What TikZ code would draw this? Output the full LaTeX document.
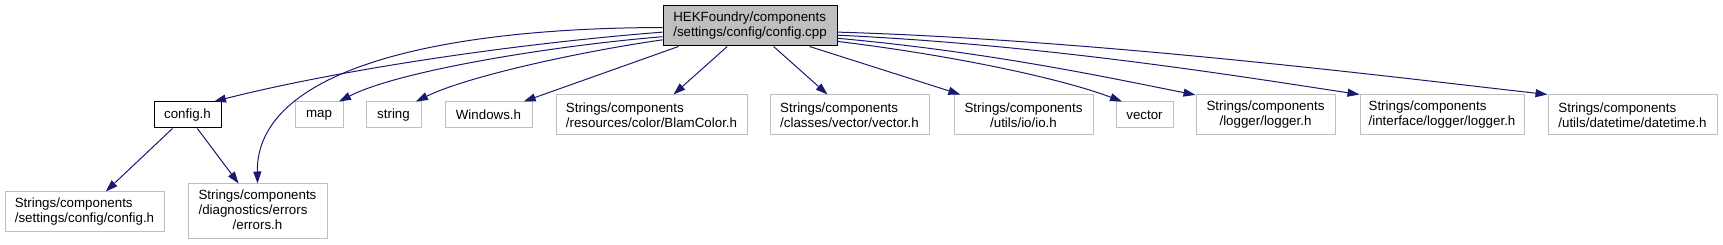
\documentclass[tikz,border=0pt]{standalone}
\usepackage{fontspec}
\setmainfont{Liberation Sans}
\usetikzlibrary{arrows.meta}
\definecolor{edgeblue}{HTML}{191970}
\definecolor{boxgrey}{HTML}{BFBFBF}
\tikzset{
  px/.style={x=0.75pt, y=-0.75pt},                 % one unit = one pixel, y downwards
  hbox/.style={draw=boxgrey, fill=white, line width=0.75pt, inner sep=0pt,
               align=left, font=\fontsize{10}{11.25}\selectfont},
  sbox/.style={hbox, minimum height=19.5pt},        % one-line header box
  dbox/.style={hbox, minimum height=30pt},          % two-line header box
  mainbox/.style={dbox, draw=black, fill=boxgrey},  % the source file itself
  incl/.style={edgeblue, line width=0.75pt, -{Triangle[length=9pt,width=6pt]}},
}

\begin{document}
\begin{tikzpicture}[px]
  \useasboundingbox (0,0) rectangle (1723,245);
  % source file
  \node[mainbox, minimum width=130.5pt] (cpp) at (750,26)
       {HEKFoundry/components\\/settings/config/config.cpp};
  % direct includes
  \node[sbox, draw=black, minimum width=50.25pt] (cfgh) at (187.5,115) {config.h};
  \node[sbox, minimum width=36pt] (map) at (319,115) {map};
  \node[sbox, minimum width=41.25pt] (str) at (393.5,115) {string};
  \node[sbox, minimum width=65.25pt] (win) at (488.5,115) {Windows.h};
  \node[dbox, minimum width=143.25pt] (blam) at (651.5,115)
       {Strings/components\\/resources/color/BlamColor.h};
  \node[dbox, minimum width=119.25pt] (vech) at (849.5,115)
       {Strings/components\\/classes/vector/vector.h};
  \node[dbox, align=center, minimum width=104.25pt] (ioh) at (1023.5,115)
       {Strings/components\\/utils/io/io.h};
  \node[sbox, minimum width=42.75pt] (vec) at (1144.5,115) {vector};
  \node[dbox, align=center, minimum width=104.25pt] (logh) at (1265.5,115)
       {Strings/components\\/logger/logger.h};
  \node[dbox, minimum width=123pt] (ilogh) at (1442,115)
       {Strings/components\\/interface/logger/logger.h};
  \node[dbox, minimum width=126.75pt] (dth) at (1632.5,115)
       {Strings/components\\/utils/datetime/datetime.h};
  % includes of config.h
  \node[dbox, minimum width=119.25pt] (cfgsrc) at (84.5,212)
       {Strings/components\\/settings/config/config.h};
  \node[hbox, minimum width=104.25pt, minimum height=41.25pt] (errs) at (257.5,211.5)
       {\begin{tabular}{@{}l@{}}Strings/components\\/diagnostics/errors\\
        \multicolumn{1}{@{}c@{}}{/errors.h}\end{tabular}};

  % edges from config.cpp
  \draw[incl] (cpp.184.6) .. controls (500,45) and (330,72) .. (cfgh.27);
  \draw[incl] (cpp.181.3) .. controls (430,28) and (256,72) .. (errs.north);
  \draw[incl] (cpp.187.2) .. controls (560,45) and (400,70) .. (map.34);
  \draw[incl] (cpp.189.8) .. controls (590,50) and (470,75) .. (str.31);
  \draw[incl] (cpp.196.4) -- (win.21);
  \draw[incl] (cpp.222.3) -- (blam.43);
  \draw[incl] (cpp.319) -- (vech.137);
  \draw[incl] (cpp.341.6) -- (ioh.162);
  \draw[incl] (cpp.350.9) .. controls (950,55) and (1060,78) .. (vec.149);
  \draw[incl] (cpp.352.1) .. controls (990,52) and (1110,78) .. (logh.164.5);
  \draw[incl] (cpp.354.1) .. controls (1050,45) and (1250,78) .. (ilogh.north west);
  \draw[incl] (cpp.356.7) .. controls (1100,40) and (1400,78) .. (dth.north west);
  % edges from config.h
  \draw[incl] (cfgh.222) -- (cfgsrc.44);
  \draw[incl] (cfgh.306) -- (errs.124);
\end{tikzpicture}
\end{document}
